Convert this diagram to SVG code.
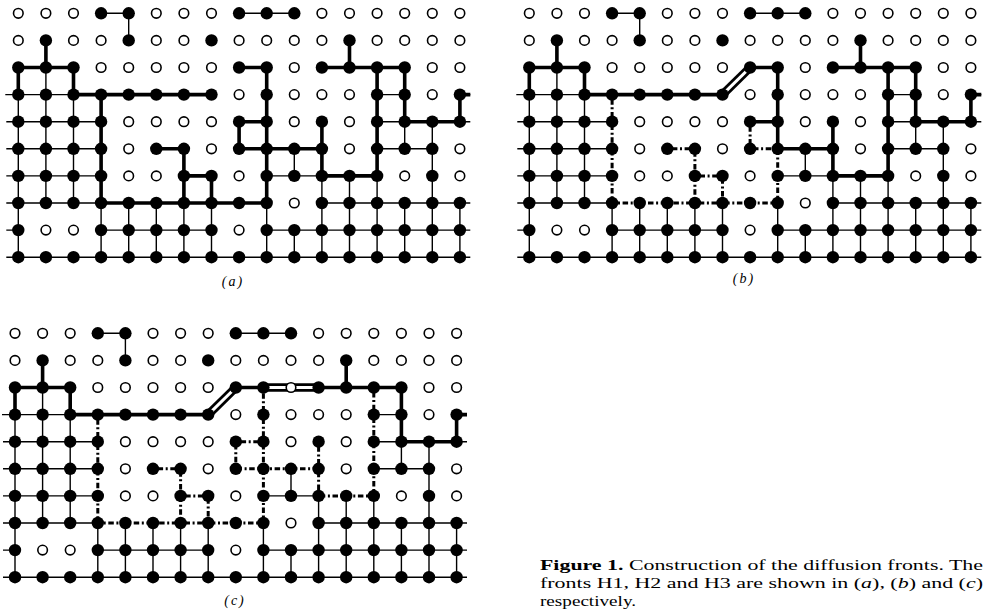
<svg xmlns="http://www.w3.org/2000/svg" width="986" height="611" viewBox="0 0 986 611">
<style>
.thin{fill:none;stroke:#000;stroke-width:1.4}
.thick{fill:none;stroke:#000;stroke-width:3.6}
.erase{fill:none;stroke:#fff;stroke-width:4}
.dash{fill:none;stroke:#000;stroke-width:3;stroke-dasharray:2 2.6 5.5 2.6}
.dblo{fill:none;stroke:#000;stroke-width:8.5}
.dbli{fill:none;stroke:#fff;stroke-width:3}
.lbl{font-family:"Liberation Serif",serif;font-style:italic;font-size:14px;letter-spacing:2px;text-anchor:middle}
.cap{font-family:"Liberation Serif",serif;font-size:15.5px}
</style>
<defs>
<circle id="F" r="6.2" fill="#000"/>
<circle id="O" r="4.8" fill="#fff" stroke="#000" stroke-width="1.6"/>
<path id="thinBonds" class="thin" d="M82.8 0H110.4M220.8 0H276M0 54.2H55.2M220.8 54.2H248.4M303.6 54.2H386.4M-13 81.3H193.2M358.8 81.3H386.4M441.6 81.3H452M-12 108.4H82.8M220.8 108.4H248.4M358.8 108.4H452M-12 135.5H82.8M138 135.5H165.6M220.8 135.5H303.6M358.8 135.5H414M-12 162.6H82.8M165.6 162.6H193.2M248.4 162.6H358.8M-12 189.7H248.4M303.6 189.7H452M-12 216.8H0M82.8 216.8H193.2M248.4 216.8H452M-12 243.9H452M0 54.2V243.9M27.6 27.1V189.7M55.2 54.2V189.7M82.8 81.3V243.9M110.4 0V27.1M110.4 189.7V243.9M138 189.7V243.9M165.6 135.5V243.9M193.2 162.6V243.9M220.8 108.4V135.5M248.4 54.2V243.9M276 135.5V162.6M276 216.8V243.9M303.6 108.4V243.9M331.2 27.1V54.2M331.2 162.6V243.9M358.8 54.2V243.9M386.4 54.2V135.5M386.4 189.7V243.9M414 108.4V243.9M441.6 81.3V108.4M441.6 189.7V243.9"/>
</defs>

<!-- Panel (a) -->
<g id="panel-a" transform="translate(18.3,13.3)">
<g id="a-connectors">
<use href="#thinBonds"/>
<path class="thick" d="M27.6 27.1V54.2M0 81.3V54.2H55.2V81.3H193.2M82.8 81.3V189.7H248.4M138 135.5H165.6V189.7M165.6 162.6H193.2V189.7M248.4 189.7V54.2H220.8M248.4 108.4H220.8V135.5H303.6M303.6 108.4V162.6H358.8V54.2M331.2 27.1V54.2M303.6 54.2H386.4V108.4H441.6V81.3H452"/>
</g>
<g id="a-nodes">
<g transform="translate(0,0)"><use id="a0-0" href="#O" x="0"/><use id="a0-1" href="#O" x="27.6"/><use id="a0-2" href="#O" x="55.2"/><use id="a0-3" href="#F" x="82.8"/><use id="a0-4" href="#F" x="110.4"/><use id="a0-5" href="#O" x="138"/><use id="a0-6" href="#O" x="165.6"/><use id="a0-7" href="#O" x="193.2"/><use id="a0-8" href="#F" x="220.8"/><use id="a0-9" href="#F" x="248.4"/><use id="a0-10" href="#F" x="276"/><use id="a0-11" href="#O" x="303.6"/><use id="a0-12" href="#O" x="331.2"/><use id="a0-13" href="#O" x="358.8"/><use id="a0-14" href="#O" x="386.4"/><use id="a0-15" href="#O" x="414"/><use id="a0-16" href="#O" x="441.6"/></g>
<g transform="translate(0,27.1)"><use id="a1-0" href="#O" x="0"/><use id="a1-1" href="#F" x="27.6"/><use id="a1-2" href="#O" x="55.2"/><use id="a1-3" href="#O" x="82.8"/><use id="a1-4" href="#F" x="110.4"/><use id="a1-5" href="#O" x="138"/><use id="a1-6" href="#O" x="165.6"/><use id="a1-7" href="#F" x="193.2"/><use id="a1-8" href="#O" x="220.8"/><use id="a1-9" href="#O" x="248.4"/><use id="a1-10" href="#O" x="276"/><use id="a1-11" href="#O" x="303.6"/><use id="a1-12" href="#F" x="331.2"/><use id="a1-13" href="#O" x="358.8"/><use id="a1-14" href="#O" x="386.4"/><use id="a1-15" href="#O" x="414"/><use id="a1-16" href="#O" x="441.6"/></g>
<g transform="translate(0,54.2)"><use id="a2-0" href="#F" x="0"/><use id="a2-1" href="#F" x="27.6"/><use id="a2-2" href="#F" x="55.2"/><use id="a2-3" href="#O" x="82.8"/><use id="a2-4" href="#O" x="110.4"/><use id="a2-5" href="#O" x="138"/><use id="a2-6" href="#O" x="165.6"/><use id="a2-7" href="#O" x="193.2"/><use id="a2-8" href="#F" x="220.8"/><use id="a2-9" href="#F" x="248.4"/><use id="a2-10" href="#O" x="276"/><use id="a2-11" href="#F" x="303.6"/><use id="a2-12" href="#F" x="331.2"/><use id="a2-13" href="#F" x="358.8"/><use id="a2-14" href="#F" x="386.4"/><use id="a2-15" href="#O" x="414"/><use id="a2-16" href="#O" x="441.6"/></g>
<g transform="translate(0,81.3)"><use id="a3-0" href="#F" x="0"/><use id="a3-1" href="#F" x="27.6"/><use id="a3-2" href="#F" x="55.2"/><use id="a3-3" href="#F" x="82.8"/><use id="a3-4" href="#F" x="110.4"/><use id="a3-5" href="#F" x="138"/><use id="a3-6" href="#F" x="165.6"/><use id="a3-7" href="#F" x="193.2"/><use id="a3-8" href="#O" x="220.8"/><use id="a3-9" href="#F" x="248.4"/><use id="a3-10" href="#O" x="276"/><use id="a3-11" href="#O" x="303.6"/><use id="a3-12" href="#O" x="331.2"/><use id="a3-13" href="#F" x="358.8"/><use id="a3-14" href="#F" x="386.4"/><use id="a3-15" href="#O" x="414"/><use id="a3-16" href="#F" x="441.6"/></g>
<g transform="translate(0,108.4)"><use id="a4-0" href="#F" x="0"/><use id="a4-1" href="#F" x="27.6"/><use id="a4-2" href="#F" x="55.2"/><use id="a4-3" href="#F" x="82.8"/><use id="a4-4" href="#O" x="110.4"/><use id="a4-5" href="#O" x="138"/><use id="a4-6" href="#O" x="165.6"/><use id="a4-7" href="#O" x="193.2"/><use id="a4-8" href="#F" x="220.8"/><use id="a4-9" href="#F" x="248.4"/><use id="a4-10" href="#O" x="276"/><use id="a4-11" href="#F" x="303.6"/><use id="a4-12" href="#O" x="331.2"/><use id="a4-13" href="#F" x="358.8"/><use id="a4-14" href="#F" x="386.4"/><use id="a4-15" href="#F" x="414"/><use id="a4-16" href="#F" x="441.6"/></g>
<g transform="translate(0,135.5)"><use id="a5-0" href="#F" x="0"/><use id="a5-1" href="#F" x="27.6"/><use id="a5-2" href="#F" x="55.2"/><use id="a5-3" href="#F" x="82.8"/><use id="a5-4" href="#O" x="110.4"/><use id="a5-5" href="#F" x="138"/><use id="a5-6" href="#F" x="165.6"/><use id="a5-7" href="#O" x="193.2"/><use id="a5-8" href="#F" x="220.8"/><use id="a5-9" href="#F" x="248.4"/><use id="a5-10" href="#F" x="276"/><use id="a5-11" href="#F" x="303.6"/><use id="a5-12" href="#O" x="331.2"/><use id="a5-13" href="#F" x="358.8"/><use id="a5-14" href="#F" x="386.4"/><use id="a5-15" href="#F" x="414"/><use id="a5-16" href="#O" x="441.6"/></g>
<g transform="translate(0,162.6)"><use id="a6-0" href="#F" x="0"/><use id="a6-1" href="#F" x="27.6"/><use id="a6-2" href="#F" x="55.2"/><use id="a6-3" href="#F" x="82.8"/><use id="a6-4" href="#O" x="110.4"/><use id="a6-5" href="#O" x="138"/><use id="a6-6" href="#F" x="165.6"/><use id="a6-7" href="#F" x="193.2"/><use id="a6-8" href="#O" x="220.8"/><use id="a6-9" href="#F" x="248.4"/><use id="a6-10" href="#F" x="276"/><use id="a6-11" href="#F" x="303.6"/><use id="a6-12" href="#F" x="331.2"/><use id="a6-13" href="#F" x="358.8"/><use id="a6-14" href="#O" x="386.4"/><use id="a6-15" href="#F" x="414"/><use id="a6-16" href="#O" x="441.6"/></g>
<g transform="translate(0,189.7)"><use id="a7-0" href="#F" x="0"/><use id="a7-1" href="#F" x="27.6"/><use id="a7-2" href="#F" x="55.2"/><use id="a7-3" href="#F" x="82.8"/><use id="a7-4" href="#F" x="110.4"/><use id="a7-5" href="#F" x="138"/><use id="a7-6" href="#F" x="165.6"/><use id="a7-7" href="#F" x="193.2"/><use id="a7-8" href="#F" x="220.8"/><use id="a7-9" href="#F" x="248.4"/><use id="a7-10" href="#O" x="276"/><use id="a7-11" href="#F" x="303.6"/><use id="a7-12" href="#F" x="331.2"/><use id="a7-13" href="#F" x="358.8"/><use id="a7-14" href="#F" x="386.4"/><use id="a7-15" href="#F" x="414"/><use id="a7-16" href="#F" x="441.6"/></g>
<g transform="translate(0,216.8)"><use id="a8-0" href="#F" x="0"/><use id="a8-1" href="#O" x="27.6"/><use id="a8-2" href="#O" x="55.2"/><use id="a8-3" href="#F" x="82.8"/><use id="a8-4" href="#F" x="110.4"/><use id="a8-5" href="#F" x="138"/><use id="a8-6" href="#F" x="165.6"/><use id="a8-7" href="#F" x="193.2"/><use id="a8-8" href="#O" x="220.8"/><use id="a8-9" href="#F" x="248.4"/><use id="a8-10" href="#F" x="276"/><use id="a8-11" href="#F" x="303.6"/><use id="a8-12" href="#F" x="331.2"/><use id="a8-13" href="#F" x="358.8"/><use id="a8-14" href="#F" x="386.4"/><use id="a8-15" href="#F" x="414"/><use id="a8-16" href="#F" x="441.6"/></g>
<g transform="translate(0,243.9)"><use id="a9-0" href="#F" x="0"/><use id="a9-1" href="#F" x="27.6"/><use id="a9-2" href="#F" x="55.2"/><use id="a9-3" href="#F" x="82.8"/><use id="a9-4" href="#F" x="110.4"/><use id="a9-5" href="#F" x="138"/><use id="a9-6" href="#F" x="165.6"/><use id="a9-7" href="#F" x="193.2"/><use id="a9-8" href="#F" x="220.8"/><use id="a9-9" href="#F" x="248.4"/><use id="a9-10" href="#F" x="276"/><use id="a9-11" href="#F" x="303.6"/><use id="a9-12" href="#F" x="331.2"/><use id="a9-13" href="#F" x="358.8"/><use id="a9-14" href="#F" x="386.4"/><use id="a9-15" href="#F" x="414"/><use id="a9-16" href="#F" x="441.6"/></g>
</g>
</g>
<text id="label-a" class="lbl" x="233" y="286">(a)</text>

<!-- Panel (b) -->
<g id="panel-b" transform="translate(529.3,13.3)">
<g id="b-connectors">
<use href="#thinBonds"/>
<path class="erase" d="M82.8 81.3V189.7H248.4M138 135.5H165.6V189.7M165.6 162.6H193.2V189.7M220.8 108.4V135.5H248.4V189.7"/>
<path class="dash" d="M82.8 81.3V189.7H248.4M138 135.5H165.6V189.7M165.6 162.6H193.2V189.7M220.8 108.4V135.5H248.4V189.7"/>
<path class="thick" d="M27.6 27.1V54.2M0 81.3V54.2H55.2V81.3H193.2M248.4 135.5V54.2H220.8M248.4 108.4H220.8M248.4 135.5H303.6M303.6 108.4V162.6H358.8V54.2M331.2 27.1V54.2M303.6 54.2H386.4V108.4H441.6V81.3H452"/>
<path class="dblo" d="M193.2 81.3L220.8 54.2"/>
<path class="dbli" d="M193.2 81.3L220.8 54.2"/>
</g>
<g id="b-nodes">
<g transform="translate(0,0)"><use id="b0-0" href="#O" x="0"/><use id="b0-1" href="#O" x="27.6"/><use id="b0-2" href="#O" x="55.2"/><use id="b0-3" href="#F" x="82.8"/><use id="b0-4" href="#F" x="110.4"/><use id="b0-5" href="#O" x="138"/><use id="b0-6" href="#O" x="165.6"/><use id="b0-7" href="#O" x="193.2"/><use id="b0-8" href="#F" x="220.8"/><use id="b0-9" href="#F" x="248.4"/><use id="b0-10" href="#F" x="276"/><use id="b0-11" href="#O" x="303.6"/><use id="b0-12" href="#O" x="331.2"/><use id="b0-13" href="#O" x="358.8"/><use id="b0-14" href="#O" x="386.4"/><use id="b0-15" href="#O" x="414"/><use id="b0-16" href="#O" x="441.6"/></g>
<g transform="translate(0,27.1)"><use id="b1-0" href="#O" x="0"/><use id="b1-1" href="#F" x="27.6"/><use id="b1-2" href="#O" x="55.2"/><use id="b1-3" href="#O" x="82.8"/><use id="b1-4" href="#F" x="110.4"/><use id="b1-5" href="#O" x="138"/><use id="b1-6" href="#O" x="165.6"/><use id="b1-7" href="#F" x="193.2"/><use id="b1-8" href="#O" x="220.8"/><use id="b1-9" href="#O" x="248.4"/><use id="b1-10" href="#O" x="276"/><use id="b1-11" href="#O" x="303.6"/><use id="b1-12" href="#F" x="331.2"/><use id="b1-13" href="#O" x="358.8"/><use id="b1-14" href="#O" x="386.4"/><use id="b1-15" href="#O" x="414"/><use id="b1-16" href="#O" x="441.6"/></g>
<g transform="translate(0,54.2)"><use id="b2-0" href="#F" x="0"/><use id="b2-1" href="#F" x="27.6"/><use id="b2-2" href="#F" x="55.2"/><use id="b2-3" href="#O" x="82.8"/><use id="b2-4" href="#O" x="110.4"/><use id="b2-5" href="#O" x="138"/><use id="b2-6" href="#O" x="165.6"/><use id="b2-7" href="#O" x="193.2"/><use id="b2-8" href="#F" x="220.8"/><use id="b2-9" href="#F" x="248.4"/><use id="b2-10" href="#O" x="276"/><use id="b2-11" href="#F" x="303.6"/><use id="b2-12" href="#F" x="331.2"/><use id="b2-13" href="#F" x="358.8"/><use id="b2-14" href="#F" x="386.4"/><use id="b2-15" href="#O" x="414"/><use id="b2-16" href="#O" x="441.6"/></g>
<g transform="translate(0,81.3)"><use id="b3-0" href="#F" x="0"/><use id="b3-1" href="#F" x="27.6"/><use id="b3-2" href="#F" x="55.2"/><use id="b3-3" href="#F" x="82.8"/><use id="b3-4" href="#F" x="110.4"/><use id="b3-5" href="#F" x="138"/><use id="b3-6" href="#F" x="165.6"/><use id="b3-7" href="#F" x="193.2"/><use id="b3-8" href="#O" x="220.8"/><use id="b3-9" href="#F" x="248.4"/><use id="b3-10" href="#O" x="276"/><use id="b3-11" href="#O" x="303.6"/><use id="b3-12" href="#O" x="331.2"/><use id="b3-13" href="#F" x="358.8"/><use id="b3-14" href="#F" x="386.4"/><use id="b3-15" href="#O" x="414"/><use id="b3-16" href="#F" x="441.6"/></g>
<g transform="translate(0,108.4)"><use id="b4-0" href="#F" x="0"/><use id="b4-1" href="#F" x="27.6"/><use id="b4-2" href="#F" x="55.2"/><use id="b4-3" href="#F" x="82.8"/><use id="b4-4" href="#O" x="110.4"/><use id="b4-5" href="#O" x="138"/><use id="b4-6" href="#O" x="165.6"/><use id="b4-7" href="#O" x="193.2"/><use id="b4-8" href="#F" x="220.8"/><use id="b4-9" href="#F" x="248.4"/><use id="b4-10" href="#O" x="276"/><use id="b4-11" href="#F" x="303.6"/><use id="b4-12" href="#O" x="331.2"/><use id="b4-13" href="#F" x="358.8"/><use id="b4-14" href="#F" x="386.4"/><use id="b4-15" href="#F" x="414"/><use id="b4-16" href="#F" x="441.6"/></g>
<g transform="translate(0,135.5)"><use id="b5-0" href="#F" x="0"/><use id="b5-1" href="#F" x="27.6"/><use id="b5-2" href="#F" x="55.2"/><use id="b5-3" href="#F" x="82.8"/><use id="b5-4" href="#O" x="110.4"/><use id="b5-5" href="#F" x="138"/><use id="b5-6" href="#F" x="165.6"/><use id="b5-7" href="#O" x="193.2"/><use id="b5-8" href="#F" x="220.8"/><use id="b5-9" href="#F" x="248.4"/><use id="b5-10" href="#F" x="276"/><use id="b5-11" href="#F" x="303.6"/><use id="b5-12" href="#O" x="331.2"/><use id="b5-13" href="#F" x="358.8"/><use id="b5-14" href="#F" x="386.4"/><use id="b5-15" href="#F" x="414"/><use id="b5-16" href="#O" x="441.6"/></g>
<g transform="translate(0,162.6)"><use id="b6-0" href="#F" x="0"/><use id="b6-1" href="#F" x="27.6"/><use id="b6-2" href="#F" x="55.2"/><use id="b6-3" href="#F" x="82.8"/><use id="b6-4" href="#O" x="110.4"/><use id="b6-5" href="#O" x="138"/><use id="b6-6" href="#F" x="165.6"/><use id="b6-7" href="#F" x="193.2"/><use id="b6-8" href="#O" x="220.8"/><use id="b6-9" href="#F" x="248.4"/><use id="b6-10" href="#F" x="276"/><use id="b6-11" href="#F" x="303.6"/><use id="b6-12" href="#F" x="331.2"/><use id="b6-13" href="#F" x="358.8"/><use id="b6-14" href="#O" x="386.4"/><use id="b6-15" href="#F" x="414"/><use id="b6-16" href="#O" x="441.6"/></g>
<g transform="translate(0,189.7)"><use id="b7-0" href="#F" x="0"/><use id="b7-1" href="#F" x="27.6"/><use id="b7-2" href="#F" x="55.2"/><use id="b7-3" href="#F" x="82.8"/><use id="b7-4" href="#F" x="110.4"/><use id="b7-5" href="#F" x="138"/><use id="b7-6" href="#F" x="165.6"/><use id="b7-7" href="#F" x="193.2"/><use id="b7-8" href="#F" x="220.8"/><use id="b7-9" href="#F" x="248.4"/><use id="b7-10" href="#O" x="276"/><use id="b7-11" href="#F" x="303.6"/><use id="b7-12" href="#F" x="331.2"/><use id="b7-13" href="#F" x="358.8"/><use id="b7-14" href="#F" x="386.4"/><use id="b7-15" href="#F" x="414"/><use id="b7-16" href="#F" x="441.6"/></g>
<g transform="translate(0,216.8)"><use id="b8-0" href="#F" x="0"/><use id="b8-1" href="#O" x="27.6"/><use id="b8-2" href="#O" x="55.2"/><use id="b8-3" href="#F" x="82.8"/><use id="b8-4" href="#F" x="110.4"/><use id="b8-5" href="#F" x="138"/><use id="b8-6" href="#F" x="165.6"/><use id="b8-7" href="#F" x="193.2"/><use id="b8-8" href="#O" x="220.8"/><use id="b8-9" href="#F" x="248.4"/><use id="b8-10" href="#F" x="276"/><use id="b8-11" href="#F" x="303.6"/><use id="b8-12" href="#F" x="331.2"/><use id="b8-13" href="#F" x="358.8"/><use id="b8-14" href="#F" x="386.4"/><use id="b8-15" href="#F" x="414"/><use id="b8-16" href="#F" x="441.6"/></g>
<g transform="translate(0,243.9)"><use id="b9-0" href="#F" x="0"/><use id="b9-1" href="#F" x="27.6"/><use id="b9-2" href="#F" x="55.2"/><use id="b9-3" href="#F" x="82.8"/><use id="b9-4" href="#F" x="110.4"/><use id="b9-5" href="#F" x="138"/><use id="b9-6" href="#F" x="165.6"/><use id="b9-7" href="#F" x="193.2"/><use id="b9-8" href="#F" x="220.8"/><use id="b9-9" href="#F" x="248.4"/><use id="b9-10" href="#F" x="276"/><use id="b9-11" href="#F" x="303.6"/><use id="b9-12" href="#F" x="331.2"/><use id="b9-13" href="#F" x="358.8"/><use id="b9-14" href="#F" x="386.4"/><use id="b9-15" href="#F" x="414"/><use id="b9-16" href="#F" x="441.6"/></g>
</g>
</g>
<text id="label-b" class="lbl" x="744" y="283">(b)</text>

<!-- Panel (c) -->
<g id="panel-c" transform="translate(15,333.3)">
<g id="c-connectors">
<use href="#thinBonds"/>
<path class="erase" d="M82.8 81.3V189.7H248.4V54.2M138 135.5H165.6V189.7M165.6 162.6H193.2V189.7M248.4 108.4H220.8V135.5H303.6M303.6 108.4V162.6H358.8V54.2"/>
<path class="dash" d="M82.8 81.3V189.7H248.4V54.2M138 135.5H165.6V189.7M165.6 162.6H193.2V189.7M248.4 108.4H220.8V135.5H303.6M303.6 108.4V162.6H358.8V54.2"/>
<path class="thick" d="M27.6 27.1V54.2M0 81.3V54.2H55.2V81.3H193.2M220.8 54.2H248.4M331.2 27.1V54.2M303.6 54.2H386.4V108.4H441.6V81.3H452"/>
<path class="dblo" d="M193.2 81.3L220.8 54.2M248.4 54.2H303.6"/>
<path class="dbli" d="M193.2 81.3L220.8 54.2M248.4 54.2H303.6"/>
</g>
<g id="c-nodes">
<g transform="translate(0,0)"><use id="c0-0" href="#O" x="0"/><use id="c0-1" href="#O" x="27.6"/><use id="c0-2" href="#O" x="55.2"/><use id="c0-3" href="#F" x="82.8"/><use id="c0-4" href="#F" x="110.4"/><use id="c0-5" href="#O" x="138"/><use id="c0-6" href="#O" x="165.6"/><use id="c0-7" href="#O" x="193.2"/><use id="c0-8" href="#F" x="220.8"/><use id="c0-9" href="#F" x="248.4"/><use id="c0-10" href="#F" x="276"/><use id="c0-11" href="#O" x="303.6"/><use id="c0-12" href="#O" x="331.2"/><use id="c0-13" href="#O" x="358.8"/><use id="c0-14" href="#O" x="386.4"/><use id="c0-15" href="#O" x="414"/><use id="c0-16" href="#O" x="441.6"/></g>
<g transform="translate(0,27.1)"><use id="c1-0" href="#O" x="0"/><use id="c1-1" href="#F" x="27.6"/><use id="c1-2" href="#O" x="55.2"/><use id="c1-3" href="#O" x="82.8"/><use id="c1-4" href="#F" x="110.4"/><use id="c1-5" href="#O" x="138"/><use id="c1-6" href="#O" x="165.6"/><use id="c1-7" href="#F" x="193.2"/><use id="c1-8" href="#O" x="220.8"/><use id="c1-9" href="#O" x="248.4"/><use id="c1-10" href="#O" x="276"/><use id="c1-11" href="#O" x="303.6"/><use id="c1-12" href="#F" x="331.2"/><use id="c1-13" href="#O" x="358.8"/><use id="c1-14" href="#O" x="386.4"/><use id="c1-15" href="#O" x="414"/><use id="c1-16" href="#O" x="441.6"/></g>
<g transform="translate(0,54.2)"><use id="c2-0" href="#F" x="0"/><use id="c2-1" href="#F" x="27.6"/><use id="c2-2" href="#F" x="55.2"/><use id="c2-3" href="#O" x="82.8"/><use id="c2-4" href="#O" x="110.4"/><use id="c2-5" href="#O" x="138"/><use id="c2-6" href="#O" x="165.6"/><use id="c2-7" href="#O" x="193.2"/><use id="c2-8" href="#F" x="220.8"/><use id="c2-9" href="#F" x="248.4"/><use id="c2-10" href="#O" x="276"/><use id="c2-11" href="#F" x="303.6"/><use id="c2-12" href="#F" x="331.2"/><use id="c2-13" href="#F" x="358.8"/><use id="c2-14" href="#F" x="386.4"/><use id="c2-15" href="#O" x="414"/><use id="c2-16" href="#O" x="441.6"/></g>
<g transform="translate(0,81.3)"><use id="c3-0" href="#F" x="0"/><use id="c3-1" href="#F" x="27.6"/><use id="c3-2" href="#F" x="55.2"/><use id="c3-3" href="#F" x="82.8"/><use id="c3-4" href="#F" x="110.4"/><use id="c3-5" href="#F" x="138"/><use id="c3-6" href="#F" x="165.6"/><use id="c3-7" href="#F" x="193.2"/><use id="c3-8" href="#O" x="220.8"/><use id="c3-9" href="#F" x="248.4"/><use id="c3-10" href="#O" x="276"/><use id="c3-11" href="#O" x="303.6"/><use id="c3-12" href="#O" x="331.2"/><use id="c3-13" href="#F" x="358.8"/><use id="c3-14" href="#F" x="386.4"/><use id="c3-15" href="#O" x="414"/><use id="c3-16" href="#F" x="441.6"/></g>
<g transform="translate(0,108.4)"><use id="c4-0" href="#F" x="0"/><use id="c4-1" href="#F" x="27.6"/><use id="c4-2" href="#F" x="55.2"/><use id="c4-3" href="#F" x="82.8"/><use id="c4-4" href="#O" x="110.4"/><use id="c4-5" href="#O" x="138"/><use id="c4-6" href="#O" x="165.6"/><use id="c4-7" href="#O" x="193.2"/><use id="c4-8" href="#F" x="220.8"/><use id="c4-9" href="#F" x="248.4"/><use id="c4-10" href="#O" x="276"/><use id="c4-11" href="#F" x="303.6"/><use id="c4-12" href="#O" x="331.2"/><use id="c4-13" href="#F" x="358.8"/><use id="c4-14" href="#F" x="386.4"/><use id="c4-15" href="#F" x="414"/><use id="c4-16" href="#F" x="441.6"/></g>
<g transform="translate(0,135.5)"><use id="c5-0" href="#F" x="0"/><use id="c5-1" href="#F" x="27.6"/><use id="c5-2" href="#F" x="55.2"/><use id="c5-3" href="#F" x="82.8"/><use id="c5-4" href="#O" x="110.4"/><use id="c5-5" href="#F" x="138"/><use id="c5-6" href="#F" x="165.6"/><use id="c5-7" href="#O" x="193.2"/><use id="c5-8" href="#F" x="220.8"/><use id="c5-9" href="#F" x="248.4"/><use id="c5-10" href="#F" x="276"/><use id="c5-11" href="#F" x="303.6"/><use id="c5-12" href="#O" x="331.2"/><use id="c5-13" href="#F" x="358.8"/><use id="c5-14" href="#F" x="386.4"/><use id="c5-15" href="#F" x="414"/><use id="c5-16" href="#O" x="441.6"/></g>
<g transform="translate(0,162.6)"><use id="c6-0" href="#F" x="0"/><use id="c6-1" href="#F" x="27.6"/><use id="c6-2" href="#F" x="55.2"/><use id="c6-3" href="#F" x="82.8"/><use id="c6-4" href="#O" x="110.4"/><use id="c6-5" href="#O" x="138"/><use id="c6-6" href="#F" x="165.6"/><use id="c6-7" href="#F" x="193.2"/><use id="c6-8" href="#O" x="220.8"/><use id="c6-9" href="#F" x="248.4"/><use id="c6-10" href="#F" x="276"/><use id="c6-11" href="#F" x="303.6"/><use id="c6-12" href="#F" x="331.2"/><use id="c6-13" href="#F" x="358.8"/><use id="c6-14" href="#O" x="386.4"/><use id="c6-15" href="#F" x="414"/><use id="c6-16" href="#O" x="441.6"/></g>
<g transform="translate(0,189.7)"><use id="c7-0" href="#F" x="0"/><use id="c7-1" href="#F" x="27.6"/><use id="c7-2" href="#F" x="55.2"/><use id="c7-3" href="#F" x="82.8"/><use id="c7-4" href="#F" x="110.4"/><use id="c7-5" href="#F" x="138"/><use id="c7-6" href="#F" x="165.6"/><use id="c7-7" href="#F" x="193.2"/><use id="c7-8" href="#F" x="220.8"/><use id="c7-9" href="#F" x="248.4"/><use id="c7-10" href="#O" x="276"/><use id="c7-11" href="#F" x="303.6"/><use id="c7-12" href="#F" x="331.2"/><use id="c7-13" href="#F" x="358.8"/><use id="c7-14" href="#F" x="386.4"/><use id="c7-15" href="#F" x="414"/><use id="c7-16" href="#F" x="441.6"/></g>
<g transform="translate(0,216.8)"><use id="c8-0" href="#F" x="0"/><use id="c8-1" href="#O" x="27.6"/><use id="c8-2" href="#O" x="55.2"/><use id="c8-3" href="#F" x="82.8"/><use id="c8-4" href="#F" x="110.4"/><use id="c8-5" href="#F" x="138"/><use id="c8-6" href="#F" x="165.6"/><use id="c8-7" href="#F" x="193.2"/><use id="c8-8" href="#O" x="220.8"/><use id="c8-9" href="#F" x="248.4"/><use id="c8-10" href="#F" x="276"/><use id="c8-11" href="#F" x="303.6"/><use id="c8-12" href="#F" x="331.2"/><use id="c8-13" href="#F" x="358.8"/><use id="c8-14" href="#F" x="386.4"/><use id="c8-15" href="#F" x="414"/><use id="c8-16" href="#F" x="441.6"/></g>
<g transform="translate(0,243.9)"><use id="c9-0" href="#F" x="0"/><use id="c9-1" href="#F" x="27.6"/><use id="c9-2" href="#F" x="55.2"/><use id="c9-3" href="#F" x="82.8"/><use id="c9-4" href="#F" x="110.4"/><use id="c9-5" href="#F" x="138"/><use id="c9-6" href="#F" x="165.6"/><use id="c9-7" href="#F" x="193.2"/><use id="c9-8" href="#F" x="220.8"/><use id="c9-9" href="#F" x="248.4"/><use id="c9-10" href="#F" x="276"/><use id="c9-11" href="#F" x="303.6"/><use id="c9-12" href="#F" x="331.2"/><use id="c9-13" href="#F" x="358.8"/><use id="c9-14" href="#F" x="386.4"/><use id="c9-15" href="#F" x="414"/><use id="c9-16" href="#F" x="441.6"/></g>
</g>
</g>
<text id="label-c" class="lbl" x="235" y="605">(c)</text>

<g id="caption" class="cap">
<text x="540" y="570" textLength="443" lengthAdjust="spacingAndGlyphs"><tspan font-weight="bold">Figure 1.</tspan> Construction of the diffusion fronts. The</text>
<text x="540" y="588" textLength="443" lengthAdjust="spacingAndGlyphs">fronts H1, H2 and H3 are shown in (<tspan font-style="italic">a</tspan>), (<tspan font-style="italic">b</tspan>) and (<tspan font-style="italic">c</tspan>)</text>
<text x="540" y="606" textLength="96" lengthAdjust="spacingAndGlyphs">respectively.</text>
</g>
</svg>
